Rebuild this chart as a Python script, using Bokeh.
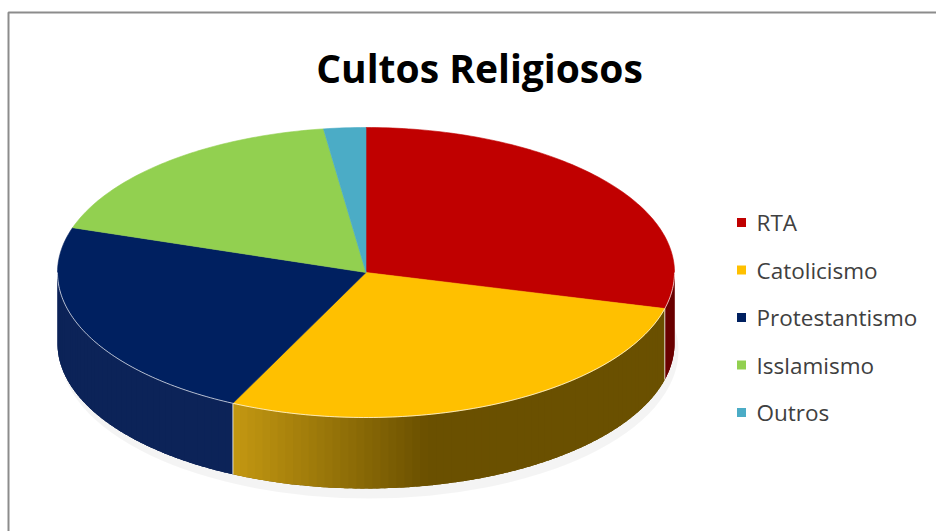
import numpy as np
from bokeh.plotting import figure
from bokeh.models import Range1d
from bokeh.core.properties import value
from bokeh.embed import file_html
from bokeh.resources import INLINE

# ---- data ----
title = "Cultos Religiosos"
categories = ["RTA", "Catolicismo", "Protestantismo", "Isslamismo", "Outros"]
values = [29.0, 28.1, 22.9, 17.8, 2.2]
top_colors = ["#C00000", "#FFC000", "#002060", "#92D050", "#4BACC6"]
side_light = ["#8A0000", "#C69A12", "#0C2358", "#6E9A3A", "#3A8CA2"]
side_dark = ["#6A0000", "#6A5000", "#0A1F50", "#4E6E28", "#2A6A7C"]

# ---- layout (pixels) ----
W, H = 936, 531
CX, CY, RX, RY, DEPTH = 365.5, 272.0, 308.5, 145.0, 71.0

p = figure(width=W, height=H, output_backend="svg", toolbar_location=None,
           x_range=Range1d(0, W), y_range=Range1d(H, 0),
           min_border=0, outline_line_color=None, background_fill_color="white",
           border_fill_color="white")
p.axis.visible = False
p.grid.visible = False

def pt(t_deg, dy=0.0):
    t = np.radians(t_deg)
    return CX + RX * np.sin(t), CY - RY * np.cos(t) + dy

vals = np.array(values, dtype=float)
ends = np.cumsum(vals) / vals.sum() * 360.0
starts = np.concatenate([[0.0], ends[:-1]])

# soft shadow below the pie
p.ellipse(x=CX + 3, y=CY + DEPTH + 7, width=2 * RX + 2, height=2 * RY + 6,
          fill_color="#000000", fill_alpha=0.045, line_color=None)

def mix(c1, c2, f):
    a = [int(c1[i:i + 2], 16) for i in (1, 3, 5)]
    b = [int(c2[i:i + 2], 16) for i in (1, 3, 5)]
    return "#%02x%02x%02x" % tuple(int(round(a[k] + (b[k] - a[k]) * f)) for k in range(3))

def shade(i, x):
    f = float(np.clip((x - (CX - 140)) / 200.0, 0, 1))
    return mix(side_light[i], side_dark[i], f)

# sides (visible from 90 to 270 degrees)
sx, sy, sc = [], [], []
for i in range(len(vals)):
    a0, a1 = max(starts[i], 90.0), min(ends[i], 270.0)
    if a1 <= a0:
        continue
    # base polygon for the whole side of this slice
    ts = np.linspace(a0, a1, 120)
    xs, ys = pt(ts)
    sx.append(list(xs) + list(xs[::-1]))
    sy.append(list(ys) + list((ys + DEPTH)[::-1]))
    sc.append(shade(i, float(np.mean(xs))))
    # overlapping strips for the gradient
    n = max(2, int(np.ceil((a1 - a0) / 1.5)))
    tk = np.linspace(a0, a1, n + 1)
    for k in range(n):
        t0, t1 = tk[k], min(tk[k + 1] + 0.8, a1)
        tt = np.linspace(t0, t1, 4)
        xs, ys = pt(tt)
        sx.append(list(xs) + list(xs[::-1]))
        sy.append(list(ys) + list((ys + DEPTH)[::-1]))
        sc.append(shade(i, float(np.mean(xs))))
p.patches(sx, sy, fill_color=sc, line_color=None)

# slice boundary edges on the side
for e in ends[:-1]:
    if 90 < e < 270:
        x0, y0 = pt(e)
        p.line([x0, x0], [y0, y0 + DEPTH], line_color="white", line_alpha=0.8, line_width=1)

# top faces
txs, tys = [], []
for i in range(len(vals)):
    n = max(4, int(np.ceil((ends[i] - starts[i]) / 1.0)))
    ts = np.linspace(starts[i], ends[i], n + 1)
    xs, ys = pt(ts)
    txs.append([CX] + list(xs)); tys.append([CY] + list(ys))
p.patches(txs, tys, fill_color=top_colors, line_color=top_colors, line_width=0.6)

# highlight along front top edge
ts = np.linspace(90, 270, 200)
hx, hy = pt(ts)
p.line(list(hx), list(hy), line_color="white", line_alpha=0.7, line_width=1)

# title
p.text(x=[479], y=[67], text=[title], text_font=value("Open Sans"),
       text_font_style="bold", text_font_size="39px", text_color="#000000",
       text_align="center", text_baseline="middle")

# legend
ly = [222 + 47.5 * i for i in range(len(categories))]
p.scatter(x=[741] * len(categories), y=ly, marker="square", size=9,
          fill_color=top_colors, line_color=None)
p.text(x=[756] * len(categories), y=ly, text=categories, text_font=value("Open Sans"),
       text_font_size="22.5px", text_color="#404040", text_align="left",
       text_baseline="middle")

# frame
p.line([8, 8, W], [H, 12, 12], line_color="#8c8c8c", line_width=2)

open("out.html", "w").write(file_html(p, INLINE))
